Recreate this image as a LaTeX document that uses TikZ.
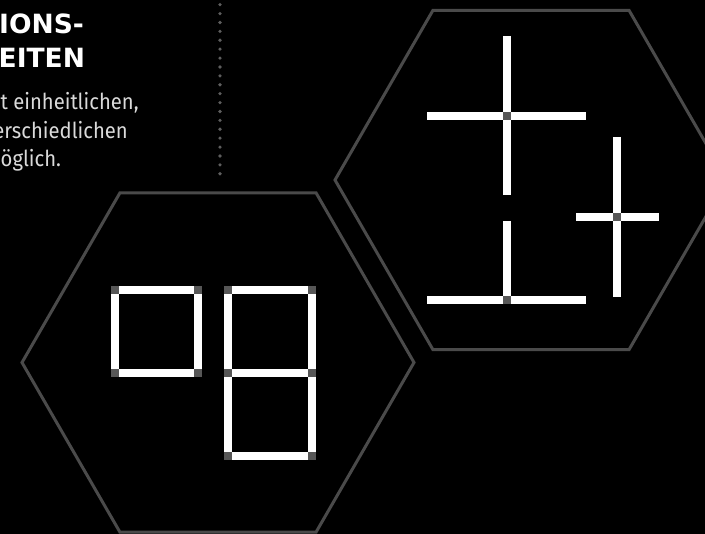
\documentclass[tikz,border=0pt]{standalone}
\usepackage{fontspec}
\newfontfamily\headfont{DejaVu Sans}
\newfontfamily\bodyfont{Fira Sans}[FakeStretch=0.92]
\definecolor{hexgrey}{HTML}{4A4A4A}
\definecolor{headgrey}{HTML}{575757}
\definecolor{dotgrey}{HTML}{5E5E5E}
\definecolor{bodytext}{HTML}{DADADA}
\tikzset{
  hexline/.style={draw=hexgrey, line width=3pt, line join=miter},
  stick/.style={draw=white, line width=8pt},
  matchhead/.style={fill=headgrey, minimum size=8pt, inner sep=0pt, draw=none, shape=rectangle},
  headtext/.style={text=white, anchor=base west, inner sep=0pt, font=\headfont\bfseries\fontsize{26.5}{32}\selectfont},
  bodyline/.style={text=bodytext, inner sep=0pt, font=\bodyfont\fontsize{22}{26}\selectfont}
}
\begin{document}
\begin{tikzpicture}[x=1pt,y=-1pt]
\fill[black] (0,0) rectangle (705,534);
\useasboundingbox (0,0) rectangle (705,534);
\begin{scope}
\clip (0,0) rectangle (705,534);
% hexagons
\draw[hexline, shift={(218,362.5)}] (0:196) -- (60:196) -- (120:196) -- (180:196) -- (240:196) -- (300:196) -- cycle;
\draw[hexline, shift={(531,180)}] (0:196) -- (60:196) -- (120:196) -- (180:196) -- (240:196) -- (300:196) -- cycle;
\end{scope}
% dotted separator
\foreach \i in {0,...,19} \fill[dotgrey] (220,4.7+8.9*\i) circle (1.8);
% texts
\node[headtext] (h1) at (-1,34) {IONS-};
\node[headtext] (h2) at (-1.5,68) {EITEN};
\node[bodyline, anchor=base west] (b1) at (0.5,110) {t einheitlichen,};
\node[bodyline, anchor=base east] (b2) at (128,139) {erschiedlichen};
\node[bodyline, anchor=base west] (b3) at (0.5,167) {öglich.};
% left figure: squares
\coordinate (a1) at (115,290); \coordinate (a2) at (197.5,290);
\coordinate (a3) at (197.5,373); \coordinate (a4) at (115,373);
\draw[stick] (a1) -- (a2) -- (a3) -- (a4) -- cycle;
\coordinate (b1c) at (228,290); \coordinate (b2c) at (311.5,290);
\coordinate (b3c) at (311.5,373); \coordinate (b4c) at (228,373);
\coordinate (b5c) at (311.5,456); \coordinate (b6c) at (228,456);
\draw[stick] (b1c) -- (b2c) -- (b5c) -- (b6c) -- cycle;
\draw[stick] (b4c) -- (b3c);
\foreach \c in {a1,a2,a3,a4,b1c,b2c,b3c,b4c,b5c,b6c} \node[matchhead] at (\c) {};
% right figure: crosses
\coordinate (c1) at (507,116);
\draw[stick] (507,36) -- (507,195);
\draw[stick] (427,116) -- (586,116);
\node[matchhead] at (c1) {};
\coordinate (c2) at (507,300);
\draw[stick] (507,221) -- (c2);
\draw[stick] (427,300) -- (586,300);
\node[matchhead] at (c2) {};
\coordinate (c3) at (617,217);
\draw[stick] (617,137) -- (617,297);
\draw[stick] (576,217) -- (659,217);
\node[matchhead] at (c3) {};
\end{tikzpicture}
\end{document}
